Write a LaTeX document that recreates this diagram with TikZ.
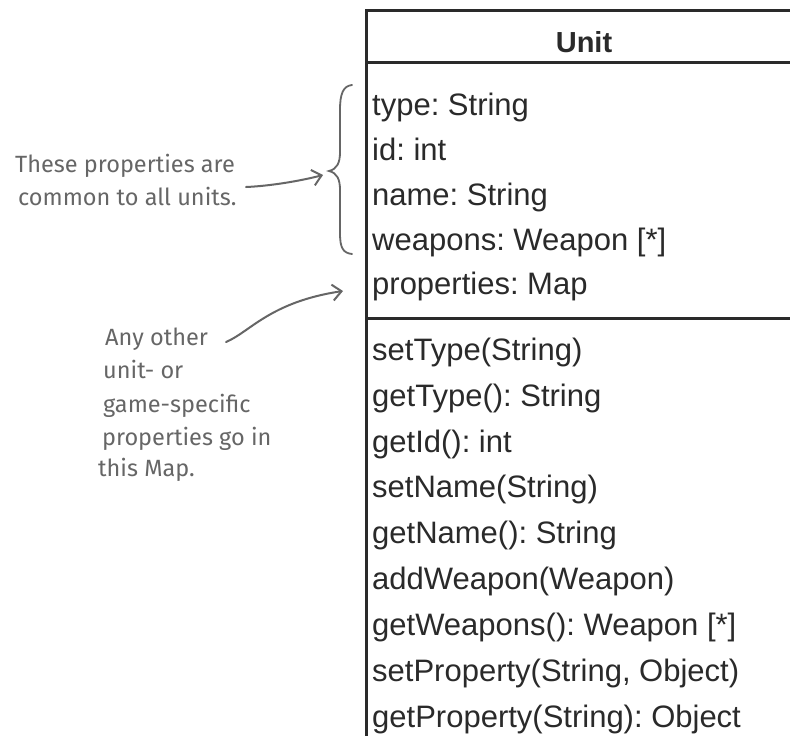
\documentclass[tikz,border=0pt]{standalone}
\usepackage{fontspec}
\setmainfont{Liberation Sans}
\newfontfamily\handfont{Fira Sans}
\usetikzlibrary{arrows.meta}
\definecolor{ink}{HTML}{2A2A2A}
\definecolor{note}{HTML}{666666}
\frenchspacing
\begin{document}
\begin{tikzpicture}[x=1pt,y=-1pt,
  member/.style={anchor=base west, inner sep=0pt, text=ink, font=\fontsize{31}{31}\selectfont\frenchspacing},
  classtitle/.style={anchor=base, inner sep=0pt, text=ink, font=\fontsize{29}{29}\selectfont\bfseries},
  notetext/.style={anchor=base west, inner sep=0pt, text=note, font=\handfont\fontsize{23.5}{23.5}\selectfont\frenchspacing},
  boxline/.style={draw=ink, line width=3pt},
  notearrow/.style={draw=note, line width=2pt, line cap=round, -{Straight Barb[length=9pt,width=16pt,line width=2pt]}},
  bracestyle/.style={draw=note, line width=1.8pt, line cap=round}
]
\useasboundingbox (0,0) rectangle (790,736);
\fill[white] (0,0) rectangle (790,736);
\clip (0,0) rectangle (790,736);

% class box
\coordinate (boxtl) at (366,10);
\coordinate (boxbr) at (802,770);
\coordinate (sep1l) at (366,62);
\coordinate (sep1r) at (802,62);
\coordinate (sep2l) at (366,318);
\coordinate (sep2r) at (802,318);
\draw[boxline] (boxtl) rectangle (boxbr);
\draw[boxline] (sep1l) -- (sep1r);
\draw[boxline] (sep2l) -- (sep2r);

\node[classtitle] (title) at (584,52) {Unit};

\node[member] (a1) at (372,115) {type: String};
\node[member] (a2) at (372,160) {id: int};
\node[member] (a3) at (372,205) {name: String};
\node[member] (a4) at (372,250) {weapons: Weapon [*]};
\node[member] (a5) at (372,294) {properties: Map};

\node[member] (m1) at (372,360) {setType(String)};
\node[member] (m2) at (372,406) {getType(): String};
\node[member] (m3) at (372,452) {getId(): int};
\node[member] (m4) at (372,497) {setName(String)};
\node[member] (m5) at (372,543) {getName(): String};
\node[member] (m6) at (372,589) {addWeapon(Weapon)};
\node[member] (m7) at (372,635) {getWeapons(): Weapon [*]};
\node[member] (m8) at (372,681) {setProperty(String, Object)};
\node[member] (m9) at (372,727) {getProperty(String): Object};

% brace
\coordinate (bracetop) at (352,85);
\coordinate (bracetip) at (329,171);
\coordinate (bracebot) at (352,254);
\draw[bracestyle] (bracetop) .. controls (343,86) and (340,94) .. (340,110)
  -- (340,152) .. controls (340,163) and (337,169) .. (bracetip)
  .. controls (337,173) and (340,179) .. (340,190)
  -- (340,233) .. controls (340,248) and (343,253) .. (bracebot);

% note 1
\node[notetext] (n1a) at (15,172) {These properties are};
\node[notetext] (n1b) at (18,205) {common to all units.};
\coordinate (n1start) at (246,187);
\coordinate (n1end) at (323,175);
\draw[notearrow] (n1start) .. controls (270,186) and (300,181) .. (n1end);

% note 2
\node[notetext] (n2a) at (105,345) {Any other};
\node[notetext] (n2b) at (103,378) {unit- or};
\node[notetext] (n2c) at (103,412) {game-specific};
\node[notetext] (n2d) at (102,445) {properties go in};
\node[notetext] (n2e) at (98,476) {this Map.};
\coordinate (n2start) at (226,342);
\coordinate (n2end) at (343,291);
\draw[notearrow] (n2start) .. controls (250,332) and (270,302) .. (n2end);
\end{tikzpicture}
\end{document}
